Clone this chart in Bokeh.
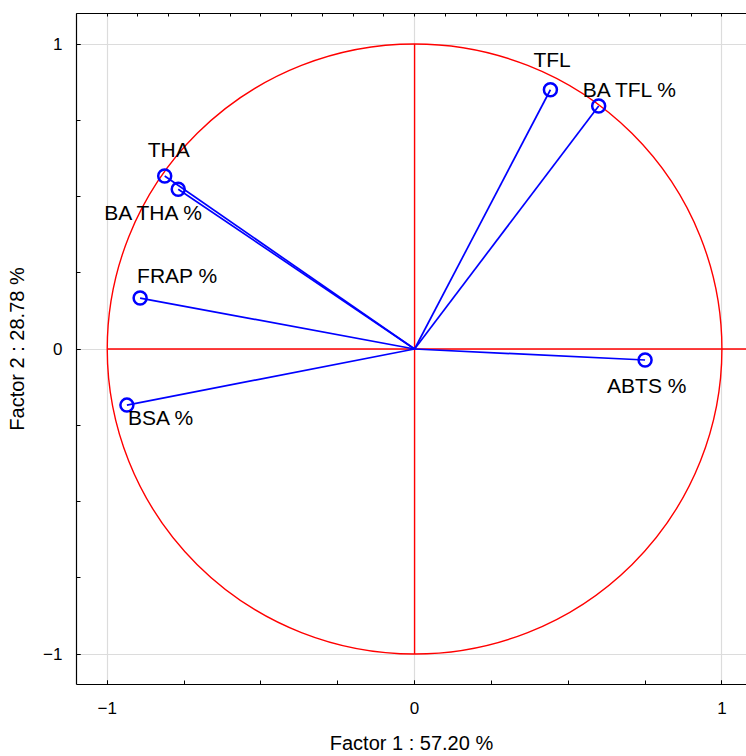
from bokeh.plotting import figure
from bokeh.models import (ColumnDataSource, Range1d, LinearAxis, FixedTicker,
                          LabelSet)
from bokeh.core.properties import value
from bokeh.embed import file_html
from bokeh.resources import INLINE

# ---- data (factor loadings) ----
variables = ["TFL", "BA TFL %", "THA", "BA THA %", "FRAP %", "BSA %", "ABTS %"]
factor1 = [0.442, 0.599, -0.813, -0.769, -0.893, -0.936, 0.750]
factor2 = [0.850, 0.797, 0.567, 0.524, 0.167, -0.184, -0.036]

x_title = "Factor 1 : 57.20 %"
y_title = "Factor 2 : 28.78 %"
major_ticks = [-1, 0, 1]
minor_ticks = [-1, -0.75, -0.5, -0.25, 0, 0.25, 0.5, 0.75, 1]
top_ticks = [-1.1, -1.0, -0.9, -0.8, -0.7, -0.6, -0.5, -0.4, -0.3, -0.2, -0.1,
             0.0, 0.1, 0.2, 0.3, 0.4, 0.5, 0.6, 0.7, 0.8, 0.9, 1.0, 1.1]

# label placement (screen pixel offsets of each label from its point; +dy = up)
label_dx = [-17, -16, -17, -74, -3, 1, -38]
label_dy = [23, 9, 19, -31, 15, -20, -33]

FONT = "Liberation Sans"

p = figure(width=746, height=756, output_backend="svg", toolbar_location=None,
           x_range=Range1d(-1.1, 1.08), y_range=Range1d(-1.1, 1.1),
           min_border_left=76, min_border_right=0, min_border_top=13,
           min_border_bottom=70)
p.outline_line_color = None
p.background_fill_color = "white"

# axes
for ax in (p.xaxis[0], p.yaxis[0]):
    ax.ticker = FixedTicker(ticks=major_ticks, minor_ticks=minor_ticks)
    ax.major_tick_in = 4
    ax.major_tick_out = 0
    ax.minor_tick_in = 4
    ax.minor_tick_out = 0
    ax.axis_line_color = "black"
    ax.axis_line_width = 1.2
    ax.major_tick_line_color = "black"
    ax.minor_tick_line_color = "black"
    ax.major_label_text_font = FONT
    ax.major_label_text_font_size = "17px"
    ax.major_label_text_color = "black"
    ax.axis_label_text_font = FONT
    ax.axis_label_text_font_size = "20px"
    ax.axis_label_text_font_style = "normal"
    ax.axis_label_text_color = "black"

p.xaxis[0].axis_label = x_title
p.yaxis[0].axis_label = y_title
p.xaxis[0].major_label_standoff = 17
p.xaxis[0].axis_label_standoff = 15
p.yaxis[0].major_label_standoff = 14
p.yaxis[0].axis_label_standoff = 12

# top axis: only unlabeled ticks (drawn as minor ticks)
top = LinearAxis(ticker=FixedTicker(ticks=[], minor_ticks=top_ticks),
                 major_tick_in=0, major_tick_out=0, minor_tick_in=3,
                 minor_tick_out=0, axis_line_color="black", axis_line_width=1.2,
                 minor_tick_line_color="black")
p.add_layout(top, "above")

# grid
p.xgrid.grid_line_color = "#dcdcdc"
p.ygrid.grid_line_color = "#dcdcdc"
p.xgrid.grid_line_width = 1.2
p.ygrid.grid_line_width = 1.2

# unit circle and red axes
p.ellipse(x=0, y=0, width=2, height=2, fill_color=None, line_color="#ff0000",
          line_width=1.4)
p.line(x=[-1, 1.1], y=[0, 0], line_color="#ff0000", line_width=1.4)
p.line(x=[0, 0], y=[-1, 1], line_color="#ff0000", line_width=1.4)

# vectors
xs = [[0, fx] for fx in factor1]
ys = [[0, fy] for fy in factor2]
p.multi_line(xs=xs, ys=ys, line_color="#0000ff", line_width=1.7)

src = ColumnDataSource(dict(x=factor1, y=factor2, name=variables,
                            dx=label_dx, dy=label_dy))
p.scatter(x="x", y="y", source=src, marker="circle", size=13,
          fill_color=None, line_color="#0000ff", line_width=2.5)

labels = LabelSet(x="x", y="y", text="name", source=src,
                  x_offset="dx", y_offset="dy",
                  text_font=value(FONT), text_font_size="21px",
                  text_color="black",
                  text_align="left", text_baseline="alphabetic")
p.add_layout(labels)

open("out.html", "w").write(file_html(p, INLINE))
